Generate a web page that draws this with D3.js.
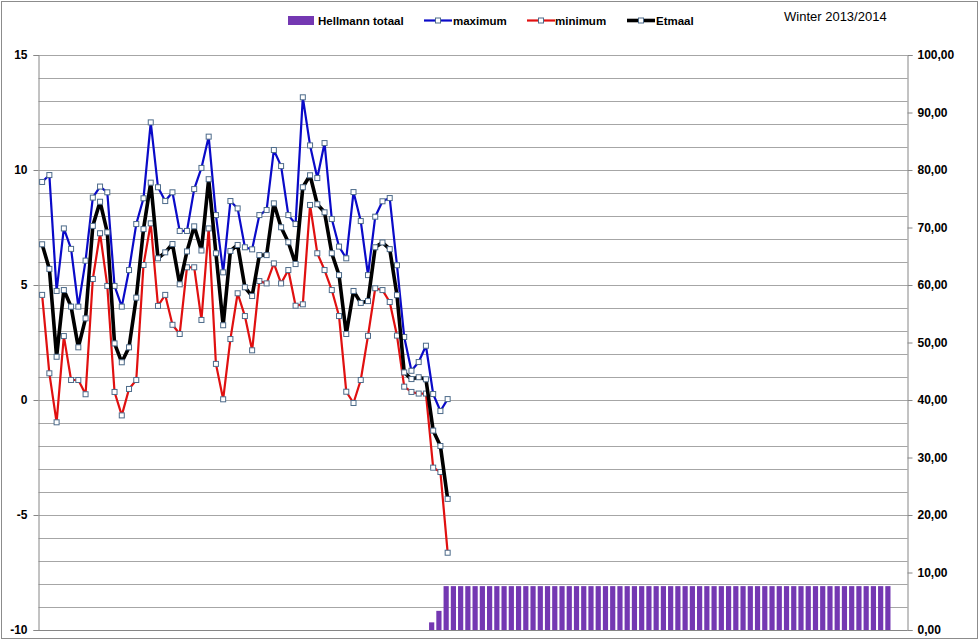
<!DOCTYPE html>
<html>
<head>
<meta charset="utf-8">
<script src="https://d3js.org/d3.v7.min.js"></script>
<style>
  body { margin: 0; background: #fff; }
  svg { font-family: "Liberation Sans", Arial, sans-serif; }
</style>
</head>
<body>
<svg width="980" height="641"></svg>
<script>
// winter days, 1 nov .. 28 feb
var dayCount = 120;

// maximum, minimum and etmaal (daily mean), from 1 nov onwards
var maxData = [9.48, 9.78, 4.74, 7.46, 6.57, 4.06, 6.06, 8.80, 9.28, 9.03,
    4.96, 4.06, 5.65, 7.65, 8.77, 12.07, 9.25, 8.65, 9.03, 7.35,
    7.35, 9.17, 10.09, 11.45, 8.04, 5.55, 8.65, 8.33, 6.64, 6.55,
    8.04, 8.26, 10.87, 10.17, 8.04, 7.65, 13.16, 11.07, 9.65, 11.17,
    7.87, 6.67, 6.16, 9.04, 7.78, 5.43, 7.97, 8.64, 8.78, 5.86,
    2.74, 1.27, 1.65, 2.36, 0.26, -0.48, 0.04];

var minData = [4.57, 1.16, -0.97, 2.78, 0.87, 0.87, 0.25, 5.26, 7.25, 4.96,
    0.35, -0.67, 0.48, 0.87, 5.87, 7.68, 4.09, 4.57, 3.27, 2.87,
    5.77, 5.77, 3.48, 7.46, 1.57, 0.03, 2.65, 4.64, 3.65, 2.16,
    5.17, 5.07, 5.94, 5.07, 5.65, 4.10, 4.16, 8.48, 6.38, 5.65,
    4.78, 3.65, 0.36, -0.13, 0.87, 2.79, 4.86, 4.78, 4.26, 2.80,
    0.58, 0.35, 0.28, 0.28, -2.94, -3.13, -6.64];

var etmaalData = [6.77, 5.70, 1.88, 4.78, 4.06, 2.29, 3.55, 7.57, 8.62, 7.29,
    2.46, 1.64, 2.29, 4.45, 7.43, 9.45, 6.16, 6.42, 6.78, 5.03,
    6.46, 7.55, 6.50, 9.60, 6.38, 3.25, 6.48, 6.74, 4.90, 4.52,
    6.30, 6.30, 8.55, 7.51, 6.86, 5.91, 9.25, 9.77, 8.51, 8.16,
    6.38, 5.43, 2.87, 4.74, 4.22, 4.30, 6.64, 6.85, 6.56, 4.56,
    1.20, 0.91, 0.99, 0.90, -1.33, -2.00, -4.30];

// Hellmann totaal (right axis), first bar on day index 54
var hellmannStart = 54;
var hellmannData = [1.33, 3.33, 7.63, 7.63, 7.63, 7.63, 7.63, 7.63, 7.63, 7.63,
    7.63, 7.63, 7.63, 7.63, 7.63, 7.63, 7.63, 7.63, 7.63, 7.63,
    7.63, 7.63, 7.63, 7.63, 7.63, 7.63, 7.63, 7.63, 7.63, 7.63,
    7.63, 7.63, 7.63, 7.63, 7.63, 7.63, 7.63, 7.63, 7.63, 7.63,
    7.63, 7.63, 7.63, 7.63, 7.63, 7.63, 7.63, 7.63, 7.63, 7.63,
    7.63, 7.63, 7.63, 7.63, 7.63, 7.63, 7.63, 7.63, 7.63, 7.63,
    7.63, 7.63, 7.63, 7.63];

var leftTicks = [-10, -5, 0, 5, 10, 15];
var rightTicks = [0, 10, 20, 30, 40, 50, 60, 70, 80, 90, 100];

var svg = d3.select('svg');

var plotLeft = 38.5, plotRight = 907.5, plotTop = 55, plotBottom = 630;

var x = d3.scaleBand().domain(d3.range(dayCount)).range([plotLeft, plotRight]);
var yL = d3.scaleLinear().domain([-10, 15]).range([plotBottom, plotTop]);
var yR = d3.scaleLinear().domain([0, 100]).range([plotBottom, plotTop]);

var nl = d3.formatLocale({decimal: ',', thousands: '.', grouping: [3], currency: ['', '']});
var fmtR = nl.format('.2f');

function cx(i) { return x(i) + x.bandwidth() / 2; }

// outer frame
svg.append('rect')
    .attr('x', 1.5).attr('y', 1.5).attr('width', 976).attr('height', 637)
    .attr('fill', 'none').attr('stroke', '#8c8c8c');

// grid every degree
svg.append('g')
    .selectAll('line')
    .data(d3.range(-10, 16))
    .enter()
    .append('line')
    .attr('x1', plotLeft).attr('x2', plotRight)
    .attr('y1', d => Math.round(yL(d)) + 0.5)
    .attr('y2', d => Math.round(yL(d)) + 0.5)
    .attr('stroke', '#a6a6a6');

// bars
var barW = 5.2;
svg.append('g')
    .selectAll('rect')
    .data(hellmannData)
    .enter()
    .append('rect')
    .attr('x', (d, i) => cx(i + hellmannStart) - barW / 2 - 1.5)
    .attr('y', d => yR(d))
    .attr('width', barW)
    .attr('height', d => plotBottom - yR(d))
    .attr('fill', '#7438b2');

// axes
var axL = svg.append('g')
    .attr('transform', 'translate(' + plotLeft + ',0)')
    .call(d3.axisLeft(yL).tickValues(leftTicks).tickSize(5).tickPadding(6).tickFormat(d => String(d)));

var axR = svg.append('g')
    .attr('transform', 'translate(' + plotRight + ',0)')
    .call(d3.axisRight(yR).tickValues(rightTicks).tickSize(5).tickPadding(5).tickFormat(fmtR));

[axL, axR].forEach(function(ax) {
    ax.select('.domain').attr('stroke', '#868686');
    ax.selectAll('.tick line').attr('stroke', '#868686');
    ax.selectAll('.tick text')
        .attr('fill', '#000')
        .style('font-size', '12px')
        .style('font-weight', 'bold');
});

svg.append('line')
    .attr('x1', plotLeft).attr('x2', plotRight)
    .attr('y1', plotBottom + 0.5).attr('y2', plotBottom + 0.5)
    .attr('stroke', '#868686');

// lines
var series = [
    {name: 'maximum', data: maxData, color: '#0a0ac8', width: 2.2},
    {name: 'minimum', data: minData, color: '#e01010', width: 2.2},
    {name: 'Etmaal', data: etmaalData, color: '#000000', width: 3.6}
];

var line = d3.line()
    .x((d, i) => cx(i))
    .y(d => yL(d));

series.forEach(function(s) {
    var g = svg.append('g');
    g.append('path')
        .datum(s.data)
        .attr('d', line)
        .attr('fill', 'none')
        .attr('stroke', s.color)
        .attr('stroke-width', s.width)
        .attr('stroke-linejoin', 'round');
    g.selectAll('rect')
        .data(s.data)
        .enter()
        .append('rect')
        .attr('x', (d, i) => cx(i) - 2.5)
        .attr('y', d => yL(d) - 2.5)
        .attr('width', 5).attr('height', 5)
        .attr('fill', '#fff')
        .attr('stroke', '#4d6b8a')
        .attr('stroke-width', 1);
});

// legend
var lg = svg.append('g').style('font-size', '11.5px').style('font-weight', 'bold');
lg.append('rect').attr('x', 288).attr('y', 16).attr('width', 26).attr('height', 9).attr('fill', '#7438b2');
lg.append('text').attr('x', 318).attr('y', 25).text('Hellmann totaal');

var legendItems = [
    {s: series[0], x0: 424, tx: 453},
    {s: series[1], x0: 527, tx: 555},
    {s: series[2], x0: 627, tx: 656}
];
legendItems.forEach(function(it) {
    lg.append('line')
        .attr('x1', it.x0).attr('x2', it.x0 + 28)
        .attr('y1', 20.5).attr('y2', 20.5)
        .attr('stroke', it.s.color).attr('stroke-width', it.s.width);
    lg.append('rect')
        .attr('x', it.x0 + 11.5).attr('y', 18).attr('width', 5).attr('height', 5)
        .attr('fill', '#fff').attr('stroke', '#4d6b8a');
    lg.append('text').attr('x', it.tx).attr('y', 25).text(it.s.name);
});

svg.append('text')
    .attr('x', 784).attr('y', 21)
    .style('font-size', '13px')
    .text('Winter 2013/2014');
</script>
</body>
</html>
